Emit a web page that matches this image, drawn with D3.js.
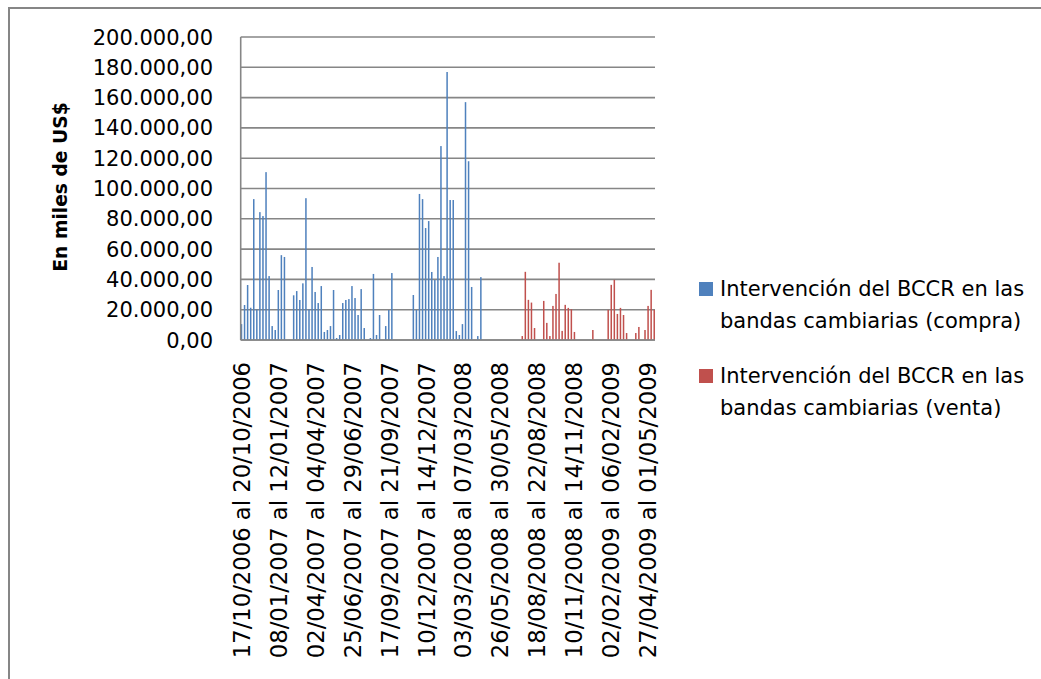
<!DOCTYPE html>
<html>
<head>
<meta charset="utf-8">
<script src="https://cdn.jsdelivr.net/npm/d3@7"></script>
<style>
  body { margin: 0; background: #fff; }
  text { font-family: "DejaVu Sans", sans-serif; fill: #000; }
</style>
</head>
<body>
<svg id="viz" width="1041" height="679"></svg>
<script>
const svg = d3.select("#viz");
const width = +svg.attr("width");
const height = +svg.attr("height");

// weekly categories (135 weeks, 17/10/2006 ... May 2009); only every 12th is labelled
const nWeeks = 135;
const tickLabels = [
  "17/10/2006 al 20/10/2006", "08/01/2007 al 12/01/2007", "02/04/2007 al 04/04/2007",
  "25/06/2007 al 29/06/2007", "17/09/2007 al 21/09/2007", "10/12/2007 al 14/12/2007",
  "03/03/2008 al 07/03/2008", "26/05/2008 al 30/05/2008", "18/08/2008 al 22/08/2008",
  "10/11/2008 al 14/11/2008", "02/02/2009 al 06/02/2009", "27/04/2009 al 01/05/2009"
];
const labelEvery = 12;

const seriesColors = ["#4F81BD", "#C0504D"];

// compra, miles de US$, one value per week
const compra = [
  10500, 23100, 36300, 21300, 93000, 20200, 84400, 81800, 110800, 42200,
  9200, 6600, 33000, 56000, 54800, 0, 0, 29500, 32300, 26400,
  37400, 93600, 20200, 48200, 31700, 24400, 35600, 5300, 6600, 9200,
  33000, 1300, 3300, 24400, 26400, 27000, 35600, 27700, 16500, 33600,
  7900, 0, 1300, 43600, 3300, 16500, 0, 9200, 19800, 44200,
  0, 0, 0, 0, 0, 0, 29700, 19800, 96400, 93000,
  73900, 78500, 44900, 39600, 54800, 128000, 42200, 176900, 92400, 92400,
  5900, 3300, 10500, 157000, 118000, 35000, 0, 2600, 41500, 0,
  0, 0, 0, 0, 0, 0, 0, 0, 0, 0,
  0, 0, 0, 0, 0, 0, 0, 0, 0, 0,
  0, 0, 0, 0, 0, 0, 0, 0, 0, 0,
  0, 0, 0, 0, 0, 0, 0, 0, 0, 0,
  0, 0, 0, 0, 0, 0, 0, 0, 0, 0,
  0, 0, 0, 0, 0
];

// venta, miles de US$
const venta = [
  0, 0, 0, 0, 0, 0, 0, 0, 0, 0,
  0, 0, 0, 0, 0, 0, 0, 0, 0, 0,
  0, 0, 0, 0, 0, 0, 0, 0, 0, 0,
  0, 0, 0, 0, 0, 0, 0, 0, 0, 0,
  0, 0, 0, 0, 0, 0, 0, 0, 0, 0,
  0, 0, 0, 0, 0, 0, 0, 0, 0, 0,
  0, 0, 0, 0, 0, 0, 0, 0, 0, 0,
  0, 0, 0, 0, 0, 0, 0, 0, 0, 0,
  0, 0, 0, 0, 0, 0, 0, 0, 0, 0,
  0, 2600, 45000, 26500, 24700, 7900, 0, 0, 25800, 11300,
  2600, 22500, 30400, 51000, 6000, 23200, 21200, 20300, 5300, 0,
  0, 0, 0, 0, 6600, 0, 0, 0, 0, 19900,
  36400, 39700, 17200, 21200, 16500, 4600, 0, 0, 4600, 8600,
  0, 6600, 22500, 33100, 19900
];

const yTicks = d3.range(0, 200001, 20000);

const plot = { left: 240.7, right: 655, top: 37, bottom: 340 };

// outer chart border
svg.append("rect")
  .attr("x", 9).attr("y", 8)
  .attr("width", 1100).attr("height", 700)
  .attr("fill", "none")
  .attr("stroke", "#868686")
  .attr("stroke-width", 2);

const x = d3.scaleBand()
  .domain(d3.range(nWeeks))
  .range([plot.left, plot.right])
  .padding(0);

const x1 = d3.scaleBand()
  .domain([0, 1])
  .range([0, x.bandwidth()])
  .paddingInner(0)
  .paddingOuter(0.02);

const y = d3.scaleLinear()
  .domain([0, 200000])
  .range([plot.bottom, plot.top]);

const fmt = v => d3.format(",.2f")(v).replace(/,/g, "#").replace(".", ",").replace(/#/g, ".");

// gridlines
svg.append("g")
  .selectAll("line")
  .data(yTicks)
  .join("line")
  .attr("x1", plot.left)
  .attr("x2", plot.right)
  .attr("y1", d => y(d))
  .attr("y2", d => y(d))
  .attr("stroke", "#868686")
  .attr("stroke-width", 1.6);

// y tick labels
svg.append("g")
  .selectAll("text")
  .data(yTicks)
  .join("text")
  .attr("x", 213)
  .attr("y", d => y(d))
  .attr("dy", "0.36em")
  .attr("text-anchor", "end")
  .attr("font-size", "21px")
  .text(d => fmt(d));

// bars
const rows = d3.range(nWeeks).map(i => ({ i, vals: [compra[i], venta[i]] }));
svg.append("g")
  .selectAll("g")
  .data(rows)
  .join("g")
  .attr("transform", d => `translate(${x(d.i)},0)`)
  .selectAll("rect")
  .data(d => d.vals.map((v, s) => ({ s, v })).filter(e => e.v > 0))
  .join("rect")
  .attr("x", d => x1(d.s))
  .attr("width", x1.bandwidth())
  .attr("y", d => y(d.v))
  .attr("height", d => y(0) - y(d.v))
  .attr("fill", d => seriesColors[d.s]);

// axes lines
svg.append("line")
  .attr("x1", plot.left).attr("x2", plot.left)
  .attr("y1", plot.top).attr("y2", plot.bottom)
  .attr("stroke", "#868686").attr("stroke-width", 1.6);
svg.append("line")
  .attr("x1", plot.left).attr("x2", plot.right)
  .attr("y1", plot.bottom).attr("y2", plot.bottom)
  .attr("stroke", "#868686").attr("stroke-width", 1.6);

// x tick labels, rotated
svg.append("g")
  .selectAll("text")
  .data(tickLabels)
  .join("text")
  .attr("transform", (d, k) => `translate(${x(k * labelEvery) + x.bandwidth() / 2},362) rotate(-90)`)
  .attr("dy", "0.36em")
  .attr("text-anchor", "end")
  .attr("font-size", "22.7px")
  .text(d => d);

// y axis title
svg.append("text")
  .attr("transform", "translate(60,187) rotate(-90)")
  .attr("dy", "0.36em")
  .attr("text-anchor", "middle")
  .attr("font-size", "18.7px")
  .attr("font-weight", "bold")
  .text("En miles de US$");

// legend
const legendLines = [
  ["Intervención del BCCR en las", "bandas cambiarias (compra)"],
  ["Intervención del BCCR en las", "bandas cambiarias (venta)"]
];
const legend = svg.append("g").attr("transform", "translate(699,282)");
legendLines.forEach((lines, i) => {
  const g = legend.append("g").attr("transform", `translate(0,${i * 87})`);
  g.append("rect")
    .attr("width", 14).attr("height", 14)
    .attr("fill", seriesColors[i]);
  lines.forEach((t, j) => {
    g.append("text")
      .attr("x", 21)
      .attr("y", 14 + j * 32)
      .attr("font-size", "21px")
      .text(t);
  });
});
</script>
</body>
</html>
